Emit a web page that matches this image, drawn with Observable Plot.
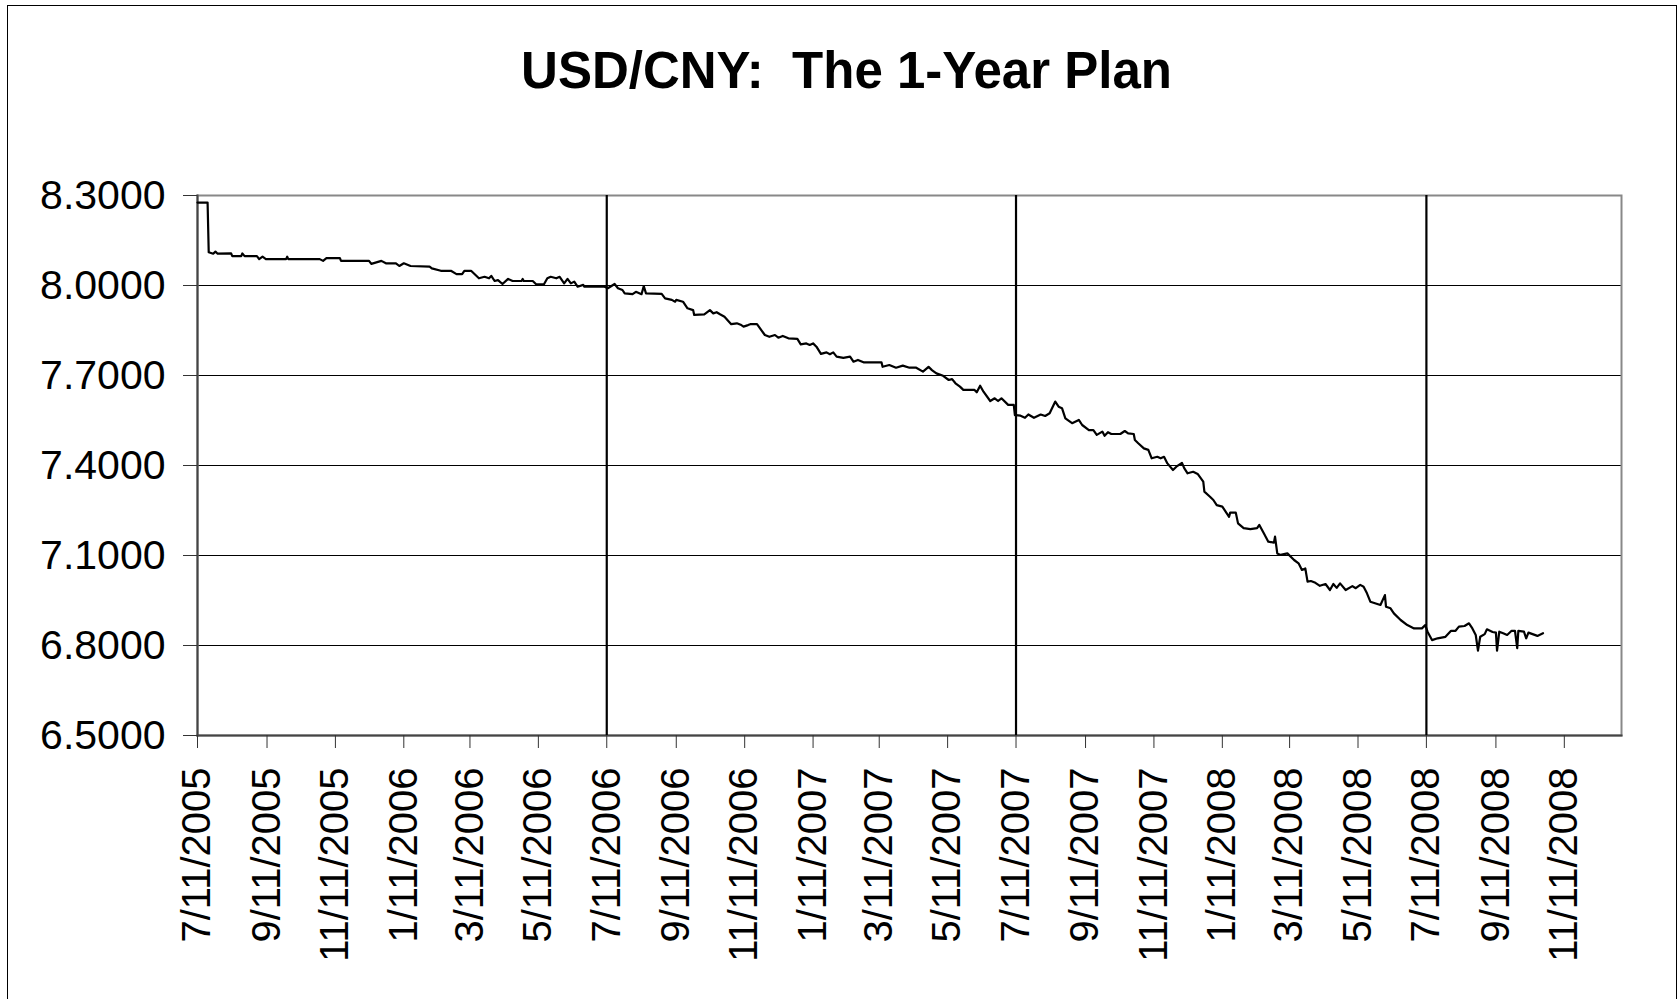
<!DOCTYPE html>
<html><head><meta charset="utf-8">
<script src="https://cdn.jsdelivr.net/npm/d3@7"></script>
<script src="https://cdn.jsdelivr.net/npm/@observablehq/plot@0.6"></script>
<style>
html,body{margin:0;padding:0;background:#fff;width:1679px;height:999px;overflow:hidden;}
#frame{position:absolute;left:7px;top:5px;width:1670px;height:1100px;border:1.5px solid #000;box-sizing:border-box;pointer-events:none;}
#title{position:absolute;left:7px;width:1679px;top:45px;text-align:center;font:bold 51px "Liberation Sans",Arial,sans-serif;line-height:51px;white-space:pre;color:#000;}
#chart{position:absolute;left:0;top:0;}
</style></head>
<body>
<div id="chart"></div>
<div id="title">USD/CNY:  The 1-Year Plan</div>
<div id="frame"></div>
<script>
const yTicks = [6.5, 6.8, 7.1, 7.4, 7.7, 8.0, 8.3];
const xTickLabels = ["7/11/2005","9/11/2005","11/11/2005","1/11/2006","3/11/2006","5/11/2006","7/11/2006","9/11/2006","11/11/2006","1/11/2007","3/11/2007","5/11/2007","7/11/2007","9/11/2007","11/11/2007","1/11/2008","3/11/2008","5/11/2008","7/11/2008","9/11/2008","11/11/2008"];
const markerDates = ["7/11/2006","7/11/2007","7/11/2008"];
const xDomain = ["7/11/2005","1/1/2009"];
const yDomain = [6.5, 8.3];
const usdCny = [
["2005-07-11",8.2765],["2005-07-20",8.2765],["2005-07-21",8.111],["2005-07-25",8.106],["2005-07-27",8.113],["2005-07-29",8.106],
["2005-08-10",8.107],["2005-08-11",8.098],["2005-08-19",8.098],["2005-08-20",8.107],["2005-08-22",8.098],["2005-09-02",8.098],
["2005-09-04",8.088],["2005-09-07",8.096],["2005-09-10",8.088],["2005-09-28",8.088],["2005-09-29",8.096],["2005-09-30",8.088],
["2005-10-28",8.088],["2005-10-31",8.082],["2005-11-03",8.091],["2005-11-15",8.091],["2005-11-16",8.082],["2005-12-11",8.082],
["2005-12-13",8.072],["2005-12-22",8.082],["2005-12-26",8.074],["2006-01-04",8.074],["2006-01-07",8.065],["2006-01-11",8.074],
["2006-01-17",8.065],["2006-02-03",8.063],["2006-02-05",8.057],["2006-02-13",8.049],["2006-02-22",8.049],["2006-02-27",8.038],
["2006-03-04",8.038],["2006-03-06",8.049],["2006-03-12",8.049],["2006-03-19",8.024],["2006-03-24",8.029],["2006-03-28",8.024],
["2006-03-30",8.032],["2006-04-02",8.015],["2006-04-05",8.018],["2006-04-09",8.005],["2006-04-14",8.022],["2006-04-18",8.015],
["2006-04-26",8.015],["2006-04-27",8.022],["2006-04-28",8.015],["2006-05-06",8.015],["2006-05-09",8.004],["2006-05-16",8.004],
["2006-05-19",8.024],["2006-05-22",8.029],["2006-05-27",8.024],["2006-05-30",8.029],["2006-06-03",8.007],["2006-06-06",8.022],
["2006-06-09",8.007],["2006-06-12",8.013],["2006-06-15",7.996],["2006-06-20",8.002],["2006-06-21",7.996],["2006-07-09",7.996],
["2006-07-12",7.991],["2006-07-18",8.005],["2006-07-21",7.991],["2006-07-25",7.985],["2006-07-27",7.974],["2006-08-03",7.971],
["2006-08-06",7.979],["2006-08-11",7.971],["2006-08-13",7.998],["2006-08-15",7.974],["2006-08-29",7.972],["2006-09-01",7.957],
["2006-09-07",7.952],["2006-09-10",7.946],["2006-09-11",7.952],["2006-09-17",7.946],["2006-09-21",7.924],["2006-09-26",7.918],
["2006-09-27",7.902],["2006-10-06",7.904],["2006-10-11",7.918],["2006-10-14",7.907],["2006-10-17",7.911],["2006-10-20",7.904],
["2006-10-24",7.896],["2006-10-30",7.871],["2006-11-04",7.874],["2006-11-08",7.868],["2006-11-10",7.863],["2006-11-14",7.868],
["2006-11-16",7.871],["2006-11-22",7.871],["2006-11-29",7.835],["2006-12-03",7.829],["2006-12-08",7.835],["2006-12-11",7.826],
["2006-12-15",7.832],["2006-12-20",7.824],["2006-12-28",7.822],["2006-12-31",7.804],["2007-01-05",7.807],["2007-01-08",7.802],
["2007-01-11",7.807],["2007-01-14",7.796],["2007-01-18",7.772],["2007-01-23",7.777],["2007-01-26",7.771],["2007-01-29",7.777],
["2007-02-01",7.763],["2007-02-07",7.759],["2007-02-13",7.763],["2007-02-16",7.746],["2007-02-20",7.752],["2007-02-25",7.744],
["2007-03-13",7.744],["2007-03-14",7.729],["2007-03-20",7.735],["2007-03-26",7.726],["2007-04-01",7.733],["2007-04-07",7.726],
["2007-04-13",7.726],["2007-04-19",7.713],["2007-04-24",7.729],["2007-04-27",7.718],["2007-05-01",7.707],["2007-05-07",7.699],
["2007-05-12",7.685],["2007-05-15",7.688],["2007-05-18",7.674],["2007-05-22",7.663],["2007-05-25",7.652],["2007-06-04",7.652],
["2007-06-06",7.644],["2007-06-09",7.666],["2007-06-12",7.646],["2007-06-18",7.615],["2007-06-22",7.624],["2007-06-25",7.615],
["2007-06-28",7.624],["2007-07-04",7.602],["2007-07-09",7.602],["2007-07-10",7.568],["2007-07-15",7.566],["2007-07-19",7.559],
["2007-07-22",7.570],["2007-07-27",7.559],["2007-08-02",7.570],["2007-08-06",7.565],["2007-08-10",7.574],["2007-08-15",7.613],
["2007-08-18",7.596],["2007-08-21",7.591],["2007-08-24",7.557],["2007-08-30",7.541],["2007-09-05",7.552],["2007-09-08",7.535],
["2007-09-14",7.518],["2007-09-18",7.518],["2007-09-21",7.502],["2007-09-26",7.513],["2007-09-28",7.499],["2007-10-01",7.511],
["2007-10-04",7.505],["2007-10-12",7.505],["2007-10-16",7.515],["2007-10-19",7.507],["2007-10-24",7.505],["2007-10-25",7.485],
["2007-10-28",7.474],["2007-11-02",7.457],["2007-11-06",7.452],["2007-11-09",7.424],["2007-11-14",7.429],["2007-11-17",7.424],
["2007-11-20",7.429],["2007-11-23",7.407],["2007-11-28",7.385],["2007-12-01",7.396],["2007-12-06",7.409],["2007-12-08",7.391],
["2007-12-11",7.374],["2007-12-16",7.379],["2007-12-20",7.372],["2007-12-25",7.346],["2007-12-26",7.313],["2007-12-31",7.296],
["2008-01-03",7.285],["2008-01-06",7.268],["2008-01-11",7.263],["2008-01-17",7.229],["2008-01-18",7.243],["2008-01-23",7.243],
["2008-01-25",7.207],["2008-01-30",7.191],["2008-02-05",7.188],["2008-02-11",7.191],["2008-02-13",7.202],["2008-02-17",7.174],
["2008-02-21",7.146],["2008-02-26",7.143],["2008-02-27",7.163],["2008-02-29",7.107],["2008-03-03",7.102],["2008-03-09",7.107],
["2008-03-15",7.085],["2008-03-19",7.074],["2008-03-22",7.052],["2008-03-25",7.057],["2008-03-27",7.013],["2008-03-30",7.015],
["2008-04-03",7.009],["2008-04-07",6.999],["2008-04-12",7.005],["2008-04-16",6.985],["2008-04-19",7.005],["2008-04-22",6.992],
["2008-04-25",7.007],["2008-04-30",6.985],["2008-05-06",6.998],["2008-05-09",6.991],["2008-05-13",7.002],["2008-05-16",6.996],
["2008-05-19",6.974],["2008-05-22",6.946],["2008-05-31",6.935],["2008-06-04",6.968],["2008-06-05",6.929],["2008-06-09",6.924],
["2008-06-12",6.907],["2008-06-18",6.885],["2008-06-24",6.868],["2008-06-30",6.857],["2008-07-07",6.857],["2008-07-10",6.868],
["2008-07-12",6.846],["2008-07-16",6.818],["2008-07-21",6.824],["2008-07-28",6.829],["2008-08-02",6.849],["2008-08-06",6.849],
["2008-08-09",6.863],["2008-08-14",6.865],["2008-08-18",6.874],["2008-08-21",6.857],["2008-08-24",6.835],["2008-08-26",6.783],
["2008-08-28",6.829],["2008-09-01",6.838],["2008-09-03",6.854],["2008-09-08",6.845],["2008-09-11",6.843],["2008-09-12",6.783],
["2008-09-14",6.846],["2008-09-18",6.840],["2008-09-21",6.835],["2008-09-25",6.849],["2008-09-28",6.849],["2008-09-30",6.791],
["2008-10-01",6.849],["2008-10-06",6.846],["2008-10-08",6.824],["2008-10-10",6.843],["2008-10-18",6.832],["2008-10-23",6.841]
];

const parseMDY = d3.utcParse("%m/%d/%Y");
const series = usdCny.map(([d, v]) => ({date: new Date(d + "T00:00:00Z"), rate: v}));
const font = '"Liberation Sans", Arial, sans-serif';

const chart = Plot.plot({
  width: 1679, height: 999,
  marginTop: 195, marginBottom: 264, marginLeft: 197, marginRight: 58,
  style: {background: "transparent", fontFamily: font, color: "#000", overflow: "visible"},
  x: {type: "utc", domain: xDomain.map(parseMDY)},
  y: {domain: yDomain},
  marks: [
    Plot.gridY(yTicks, {stroke: "#000", strokeOpacity: 1, strokeWidth: 1}),
    Plot.frame({stroke: "#888", strokeWidth: 2}),
    Plot.frame({anchor: "left", stroke: "#444", strokeWidth: 2}),
    Plot.frame({anchor: "bottom", stroke: "#444", strokeWidth: 2}),
    Plot.axisY(yTicks, {tickFormat: d3.format(".4f"), fontSize: 41, tickSize: 14, tickPadding: 18, stroke: "#333", label: null}),
    Plot.axisX(xTickLabels.map(parseMDY), {tickFormat: d3.utcFormat("%-m/%-d/%Y"), tickRotate: -90, fontSize: 40, tickSize: 13, tickPadding: 19, stroke: "#333", label: null}),
    Plot.ruleX(markerDates.map(parseMDY), {stroke: "#000", strokeWidth: 2.2}),
    Plot.lineY(series, {x: "date", y: "rate", stroke: "#000", strokeWidth: 2.2})
  ]
});
document.getElementById("chart").appendChild(chart);
</script>
</body></html>
